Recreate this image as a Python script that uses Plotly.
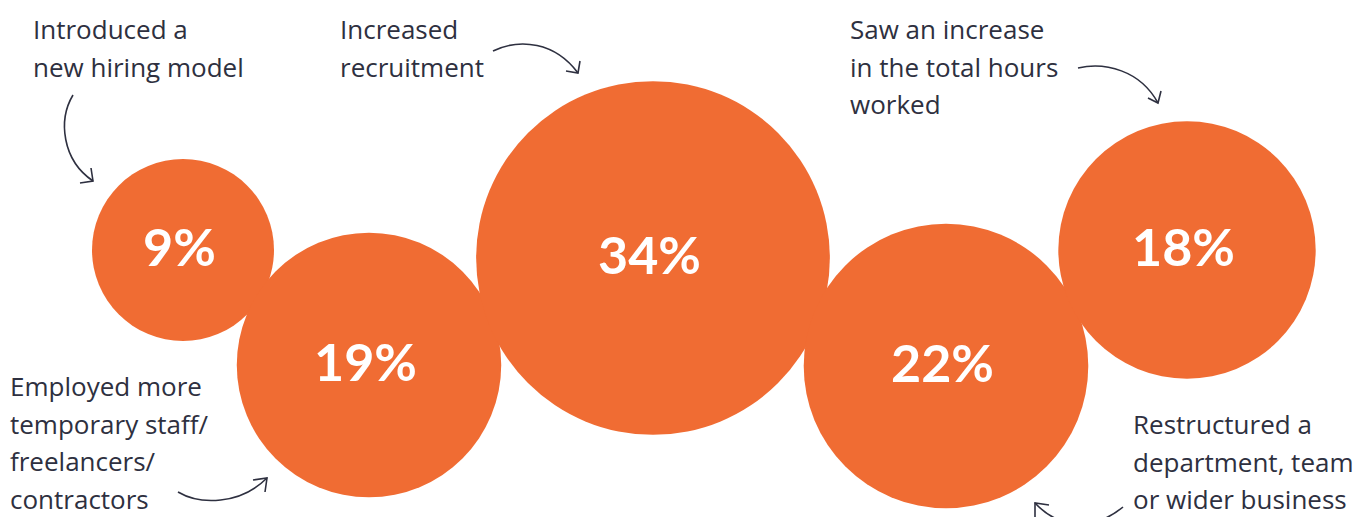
import plotly.graph_objects as go
import math

# ---- data ----
categories = [
    "Introduced a new hiring model",
    "Employed more temporary staff/freelancers/contractors",
    "Increased recruitment",
    "Restructured a department, team or wider business",
    "Saw an increase in the total hours worked",
]
values = [9, 19, 34, 22, 18]
value_labels = ["9%", "19%", "34%", "22%", "18%"]

# ---- layout (packed bubble positions, pixel space) ----
bubble_x = [183, 369, 653, 946, 1187]
bubble_y = [250, 365, 258, 366, 250]

ORANGE = "#F06C33"
INK = "#2E3040"
W, H = 1362, 517

# bubble area proportional to value: the 9% bubble is ~182 px across
BASE_D = 182.0
sizes = [math.sqrt(v) for v in values]
sizeref = math.sqrt(values[0]) / BASE_D

fig = go.Figure()
fig.add_trace(go.Scatter(
    x=bubble_x, y=bubble_y,
    mode="markers",
    marker=dict(size=sizes, sizemode="diameter", sizeref=sizeref,
                color=ORANGE, opacity=1, line=dict(width=0)),
    hoverinfo="skip",
    cliponaxis=False,
))

# percentage labels, nudged slightly as in the original artwork
LABEL_DX = -4
LABEL_DY = 4
annotations = []
for bx, by, lab in zip(bubble_x, bubble_y, value_labels):
    annotations.append(dict(
        x=bx, y=by, xref="x", yref="y", text=lab, showarrow=False,
        xanchor="center", yanchor="middle", xshift=LABEL_DX, yshift=LABEL_DY,
        borderpad=0,
        font=dict(family="Lato", size=52, color="white", weight="bold"),
    ))

# ---- annotation text blocks (one line per annotation for spacing control) ----
blocks = [
    (["Introduced a", "new hiring model"], 32, 29),
    (["Increased", "recruitment"], 339, 29),
    (["Saw an increase", "in the total hours", "worked"], 849, 29),
    (["Employed more", "temporary staff/", "freelancers/", "contractors"], 9, 386),
    (["Restructured a", "department, team", "or wider business"], 1132, 424),
]
LINE_H = 37.5
for lines, x0, y0 in blocks:
    for i, ln in enumerate(lines):
        annotations.append(dict(
            x=x0, y=y0 + i * LINE_H, xref="x", yref="y",
            text=ln, showarrow=False, xanchor="left", yanchor="middle",
            borderpad=0,
            font=dict(family="Open Sans", size=26, color=INK),
        ))

# ---- curved arrows ----
arrow_paths = [
    ("M 73 95 C 58 120, 62 160, 93 181", "M 80 183 L 93 181 L 91 168"),
    ("M 493 51 C 520 38, 555 42, 578 73", "M 566 71 L 578 73 L 580 61"),
    ("M 1078 68 C 1105 62, 1140 70, 1158 103", "M 1148 98 L 1158 103 L 1161 91"),
    ("M 178 492 C 200 505, 240 505, 267 478", "M 253 480 L 267 478 L 265 492"),
    ("M 1123 507 C 1095 530, 1060 530, 1035 503", "M 1049 505 L 1035 503 L 1035 517"),
]
shapes = []
for body, head in arrow_paths:
    for p in (body, head):
        shapes.append(dict(type="path", path=p, xref="x", yref="y",
                           line=dict(color=INK, width=1.6), fillcolor="rgba(0,0,0,0)"))

fig.update_layout(
    width=W, height=H,
    margin=dict(l=0, r=0, t=0, b=0),
    paper_bgcolor="white", plot_bgcolor="white",
    showlegend=False,
    xaxis=dict(range=[0, W], visible=False, fixedrange=True),
    yaxis=dict(range=[H, 0], visible=False, fixedrange=True),
    annotations=annotations,
    shapes=shapes,
)

fig.write_html("out.html", config={"displayModeBar": False},
               post_script="document.body.style.margin='0';document.body.style.overflow='hidden';")
